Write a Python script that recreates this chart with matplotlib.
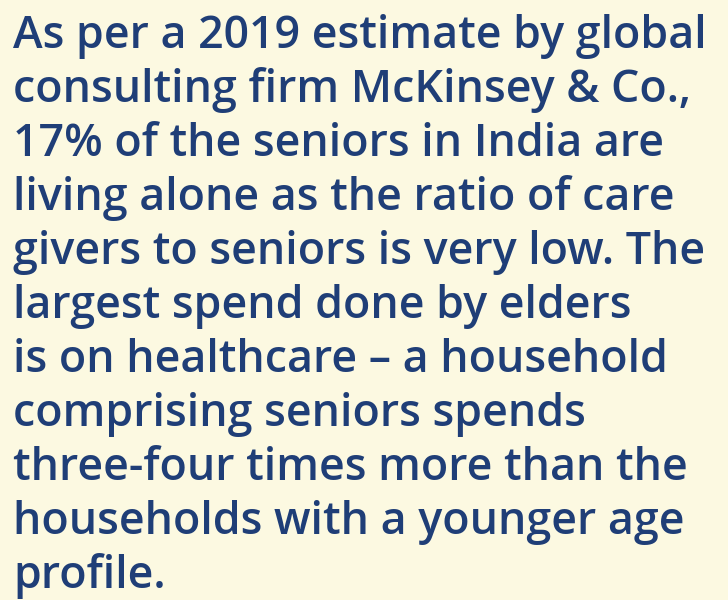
import matplotlib
matplotlib.use("Agg")
import matplotlib.pyplot as plt

lines = [
    "As per a 2019 estimate by global",
    "consulting firm McKinsey & Co.,",
    "17% of the seniors in India are",
    "living alone as the ratio of care",
    "givers to seniors is very low. The",
    "largest spend done by elders",
    "is on healthcare \u2013 a household",
    "comprising seniors spends",
    "three-four times more than the",
    "households with a younger age",
    "profile.",
]

W, H = 728, 600
fig = plt.figure(figsize=(W / 100, H / 100), dpi=100)
fig.patch.set_facecolor("#fcf9e1")
ax = fig.add_axes([0, 0, 1, 1])
ax.set_xlim(0, W)
ax.set_ylim(H, 0)
ax.axis("off")

first_baseline = 48
spacing = 54.0
for i, t in enumerate(lines):
    ax.text(13, first_baseline + i * spacing, t, fontsize=32.2, fontweight="semibold",
            family=["Open Sans", "DejaVu Sans"], color="#1f3e77", va="baseline", ha="left")

fig.savefig("out.png", dpi=100, facecolor=fig.get_facecolor())
